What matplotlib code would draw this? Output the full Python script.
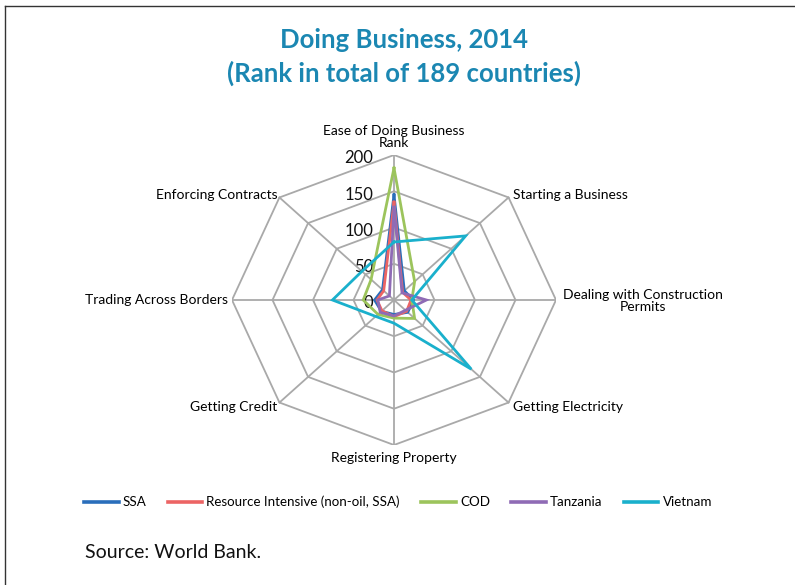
import numpy as np
import matplotlib.pyplot as plt

# Doing Business 2014 ranks, clockwise from the top spoke
categories = ["Ease of Doing Business\nRank", "Starting a Business",
              "Dealing with Construction\nPermits", "Getting Electricity",
              "Registering Property", "Getting Credit",
              "Trading Across Borders", "Enforcing Contracts"]
ssa = [145, 18, 24, 24, 20, 22, 24, 20]
resource_intensive = [135, 15, 21, 22, 23, 21, 21, 18]
cod = [182, 36, 22, 36, 25, 28, 38, 40]
tanzania = [128, 14, 40, 20, 22, 24, 20, 8]
vietnam = [80, 125, 22, 135, 32, 32, 76, 56]

series_names = ["SSA", "Resource Intensive (non-oil, SSA)", "COD", "Tanzania", "Vietnam"]
series_values = [ssa, resource_intensive, cod, tanzania, vietnam]
series_colors = ["#2a6ebb", "#ec6464", "#9cc45c", "#8f6bb5", "#1ab0cc"]
rings = [0, 50, 100, 150, 200]

plt.rcParams['font.family'] = ['Lato', 'DejaVu Sans']

fig = plt.figure(figsize=(7.95, 5.85), dpi=100)
W, H = 795, 585

# frame round the panel
fig.add_artist(plt.Line2D([5 / W, 5 / W], [0, 1 - 6 / H], color="#333333", lw=1.0))
fig.add_artist(plt.Line2D([5 / W, 1], [1 - 6 / H, 1 - 6 / H], color="#333333", lw=1.0))

fig.text(404 / W, 1 - 40 / H, "Doing Business, 2014", ha="center", va="center",
         fontsize=18.5, fontweight="bold", color="#1b87b2")
fig.text(404 / W, 1 - 73 / H, "(Rank in total of 189 countries)", ha="center", va="center",
         fontsize=18.5, fontweight="bold", color="#1b87b2")

ax = fig.add_axes([232 / W, 140 / H, 324 / W, 290 / H])
ax.set_xlim(-200, 200)
ax.set_ylim(-200, 200)
ax.axis("off")

angles = np.arange(len(categories)) * 2 * np.pi / len(categories)


def closed_xy(vals):
    v = np.append(vals, vals[0]).astype(float)
    a = np.append(angles, angles[0])
    return v * np.sin(a), v * np.cos(a)


grid_color = "#a9a9a9"
for r in rings[1:]:
    gx, gy = closed_xy([r] * len(categories))
    ax.plot(gx, gy, color=grid_color, lw=1.3, zorder=1)
for a in angles:
    ax.plot([0, rings[-1] * np.sin(a)], [0, rings[-1] * np.cos(a)],
            color=grid_color, lw=1.3, zorder=1)

for r in rings:
    ax.annotate(str(r), xy=(0, r), xytext=(-15, -2.5), textcoords="offset points",
                ha="right", va="center", fontsize=12, color="#111111")

label_pos = [
    ((0, 4.5), "center", "bottom"),
    ((3, 2), "left", "center"),
    ((5, -0.5), "left", "center"),
    ((3, -3), "left", "center"),
    ((0, -5), "center", "top"),
    ((-1.5, -3), "right", "center"),
    ((-3, 0), "right", "center"),
    ((-1.5, 2), "right", "center"),
]
for name, a, (off, ha, va) in zip(categories, angles, label_pos):
    ax.annotate(name, xy=(rings[-1] * np.sin(a), rings[-1] * np.cos(a)),
                xytext=off, textcoords="offset points", ha=ha, va=va,
                multialignment="center", fontsize=10, color="#000000",
                linespacing=1.0, annotation_clip=False)

handles = []
for name, vals, col in zip(series_names, series_values, series_colors):
    sx, sy = closed_xy(vals)
    line, = ax.plot(sx, sy, color=col, lw=2.0, label=name, zorder=3,
                    solid_joinstyle="miter")
    handles.append(line)

leg = fig.legend(handles=handles, loc="center", bbox_to_anchor=(398 / W, 1 - 502 / H),
                 ncol=5, frameon=False, fontsize=9.6, handlelength=2.6,
                 handletextpad=0.3, columnspacing=1.6)
for h in leg.get_lines():
    h.set_linewidth(2.6)

fig.text(85 / W, 1 - 553 / H, "Source: World Bank.", ha="left", va="center",
         fontsize=14, color="#111111")

fig.savefig("out.png", dpi=100)
